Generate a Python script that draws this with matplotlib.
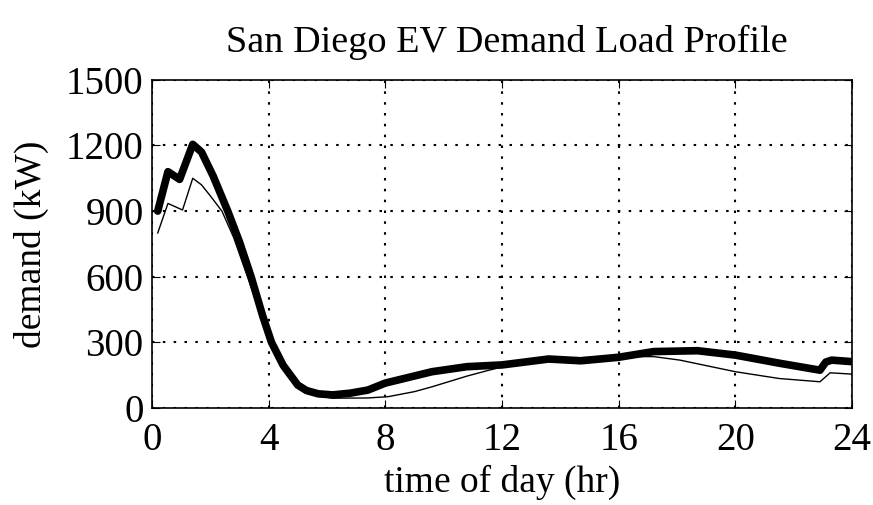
import matplotlib.pyplot as plt

plt.rcParams['font.family'] = ['Liberation Serif', 'DejaVu Serif']

# Hour of day and demand (kW), aggregated EV load
hours_total = [0.2, 0.55, 0.95, 1.4, 1.7, 2.1, 2.6, 3.0, 3.4, 3.8, 4.1, 4.5, 5.0, 5.3,
               5.7, 6.2, 6.8, 7.4, 8.0, 8.8, 9.6, 10.8, 12.0, 13.6, 14.7, 16.0, 17.2,
               18.7, 20.0, 21.5, 22.9, 23.1, 23.3, 24.0]
demand_total = [900, 1080, 1045, 1205, 1170, 1060, 900, 760, 600, 420, 300, 195, 105, 80,
                65, 60, 68, 82, 114, 140, 166, 189, 197, 224, 216, 232, 258,
                262, 242, 205, 173, 210, 219, 212]

# Second (lighter) profile
hours_base = [0.2, 0.55, 1.05, 1.4, 1.7, 2.0, 2.4, 2.8, 3.25, 3.7, 4.1, 4.5, 5.0, 5.5,
              6.2, 7.4, 8.1, 9.0, 9.6, 10.8, 11.5, 12.2, 13.6, 14.7, 16.0, 17.2, 18.1,
              20.0, 21.5, 22.9, 23.25, 24.0]
demand_base = [800, 935, 905, 1050, 1020, 970, 900, 780, 610, 440, 295, 180, 95, 60,
               45, 46, 52, 75, 97, 146, 171, 195, 222, 230, 235, 235, 219,
               166, 135, 120, 161, 155]

x_ticks = [0, 4, 8, 12, 16, 20, 24]
y_ticks = [0, 300, 600, 900, 1200, 1500]

fig = plt.figure(figsize=(8.73, 5.05), dpi=100)
ax = fig.add_axes([0.174, 0.192, 0.802, 0.650])

ax.plot(hours_base, demand_base, color='black', lw=1.0, solid_joinstyle='round')
ax.plot(hours_total, demand_total, color='black', lw=5.5,
        solid_capstyle='round', solid_joinstyle='round')

ax.set_xlim(0, 24)
ax.set_ylim(0, 1500)
ax.set_xticks(x_ticks)
ax.set_yticks(y_ticks)
ax.tick_params(direction='in', top=True, right=True, labelsize=28, length=6)
ax.tick_params(axis='x', pad=10)
ax.tick_params(axis='y', pad=6)
ax.grid(True, linestyle=(0, (1.2, 4)), color='black', lw=1.5)
for s in ax.spines.values():
    s.set_linewidth(1.2)

ax.set_xlabel('time of day (hr)', fontsize=27, labelpad=4)
ax.set_ylabel('demand (kW)', fontsize=27, labelpad=12)
fig.text(0.581, 0.915, 'San Diego EV Demand Load Profile', fontsize=27.5,
         ha='center', va='center')

fig.savefig('out.png', dpi=100)
